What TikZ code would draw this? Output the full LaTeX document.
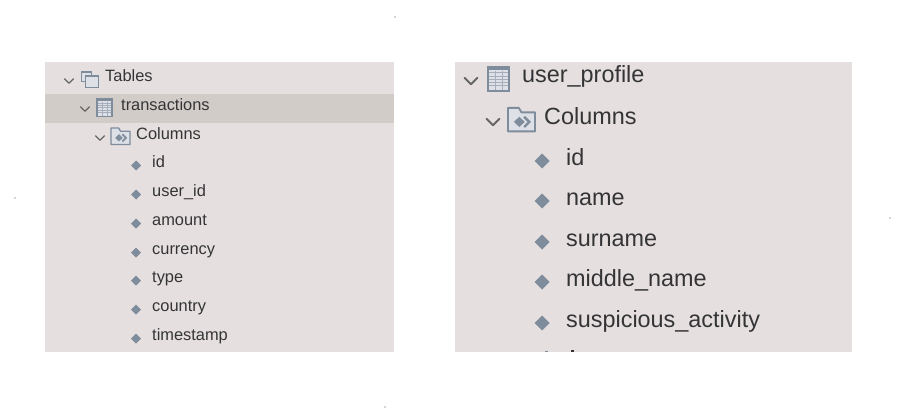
\documentclass[tikz,border=0pt]{standalone}
\usepackage{fontspec}
\setmainfont{Liberation Sans}
\definecolor{panelbg}{HTML}{E5DFDF}
\definecolor{rowbg}{HTML}{D2CCC9}
\definecolor{icongray}{HTML}{7F8C9C}
\definecolor{iconfill}{HTML}{DDE0E6}
\definecolor{labeltext}{HTML}{343436}
\tikzset{
  chevron/.style={draw=black!60, line width=.14*#1, line cap=round, line join=round},
  iconline/.style={draw=icongray, line width=.07*#1},
  leftlabel/.style={anchor=base west, inner sep=0pt, text=labeltext, font=\fontsize{16.4}{18}\selectfont},
  rightlabel/.style={anchor=base west, inner sep=0pt, text=labeltext, font=\fontsize{23.4}{26}\selectfont},
}
% #1 size, (#2,#3) centre
\newcommand{\chevronicon}[3]{\draw[chevron=#1] (#2-.5*#1,#3-.25*#1) -- (#2,#3+.25*#1) -- (#2+.5*#1,#3-.25*#1);}
\newcommand{\tableicon}[3]{
    \fill[iconfill] (#2-.5*#1,#3-.57*#1) rectangle (#2+.5*#1,#3+.57*#1);
    \foreach \u in {-.3,-.15,0,.15,.3}
        \draw[icongray!70, line width=.03*#1] (#2-.5*#1,#3+\u*#1) -- (#2+.5*#1,#3+\u*#1);
    \foreach \u in {-.17,.17}
        \draw[icongray!70, line width=.03*#1] (#2+\u*#1,#3-.4*#1) -- (#2+\u*#1,#3+.57*#1);
    \draw[iconline=#1] (#2-.5*#1,#3-.57*#1) rectangle (#2+.5*#1,#3+.57*#1);
    \fill[icongray] (#2-.5*#1,#3-.57*#1) rectangle (#2+.5*#1,#3-.42*#1);
}
\newcommand{\foldericon}[3]{
    \draw[iconline=#1, fill=iconfill, line join=round] (#2-.5*#1,#3+.42*#1) -- (#2-.5*#1,#3-.45*#1) -- (#2-.1*#1,#3-.45*#1) -- (#2,#3-.28*#1) -- (#2+.5*#1,#3-.28*#1) -- (#2+.5*#1,#3+.42*#1) -- cycle;
    \fill[icongray] (#2-.28*#1,#3+.07*#1) -- (#2-.08*#1,#3-.12*#1) -- (#2+.12*#1,#3+.07*#1) -- (#2-.08*#1,#3+.26*#1) -- cycle;
    \draw[icongray, line width=.09*#1] (#2+.1*#1,#3-.12*#1) -- (#2+.29*#1,#3+.07*#1) -- (#2+.1*#1,#3+.26*#1);
}
\newcommand{\diamondicon}[3]{\fill[icongray] (#2-.5*#1,#3) -- (#2,#3-.5*#1) -- (#2+.5*#1,#3) -- (#2,#3+.5*#1) -- cycle;}
% stacked windows in front of each other
\newcommand{\windowicon}[4]{
    \fill[iconfill] (#1,#2) rectangle (#3,#4);
    \draw[icongray, line width=.8pt] (#1,#2) rectangle (#3,#4);
    \fill[icongray] (#1,#2) rectangle (#3,#2+2.5);
}
\begin{document}
\begin{tikzpicture}[x=1pt, y=-1pt]
\useasboundingbox (0,0) rectangle (905,420);

% stray specks
\foreach \x/\y in {395/17, 15/198, 890/218, 385/407}
    \fill[black!70] (\x,\y) circle (.6);

% left panel
\fill[panelbg] (45,62) rectangle (394,352);
\fill[rowbg] (45,94) rectangle (394,123);
\chevronicon{9}{69}{81}
\windowicon{81}{71}{91}{81}
\windowicon{85}{75}{98}{87}
\node[leftlabel] (tables) at (105,81.5) {Tables};
\chevronicon{9}{85}{109}
\tableicon{15}{104.5}{107.5}
\node[leftlabel] (transactions) at (121,110.5) {transactions};
\chevronicon{9}{100}{138}
\foldericon{19}{120.5}{136.5}
\node[leftlabel] (columnsleft) at (136,139.5) {Columns};
\foreach \y/\t [count=\i] in {162/id, 191/user\_id, 220/amount, 249/currency, 277/type, 306/country, 335/timestamp} {
    \diamondicon{10}{136}{\y+3.5}
    \node[leftlabel] (leftcol\i) at (152,\y+5.5) {\t};
}

% right panel
\fill[panelbg] (455,62) rectangle (852,352);
\chevronicon{13}{471}{81}
\tableicon{21}{498.5}{79}
\node[rightlabel] (userprofile) at (522,83) {user\_profile};
\chevronicon{13}{493}{122}
\foldericon{27}{521.5}{120}
\node[rightlabel] (columnsright) at (544,124) {Columns};
\foreach \y/\t [count=\i] in {157/id, 197/name, 238/surname, 278/middle\_name, 319/suspicious\_activity} {
    \diamondicon{15}{542}{\y+4}
    \node[rightlabel] (rightcol\i) at (566,\y+8) {\t};
}
% tops of the next row, cut off by the panel edge
\fill[icongray] (545,350.5) rectangle (548,352);
\fill[labeltext] (571,350) rectangle (574,352);
\end{tikzpicture}
\end{document}
